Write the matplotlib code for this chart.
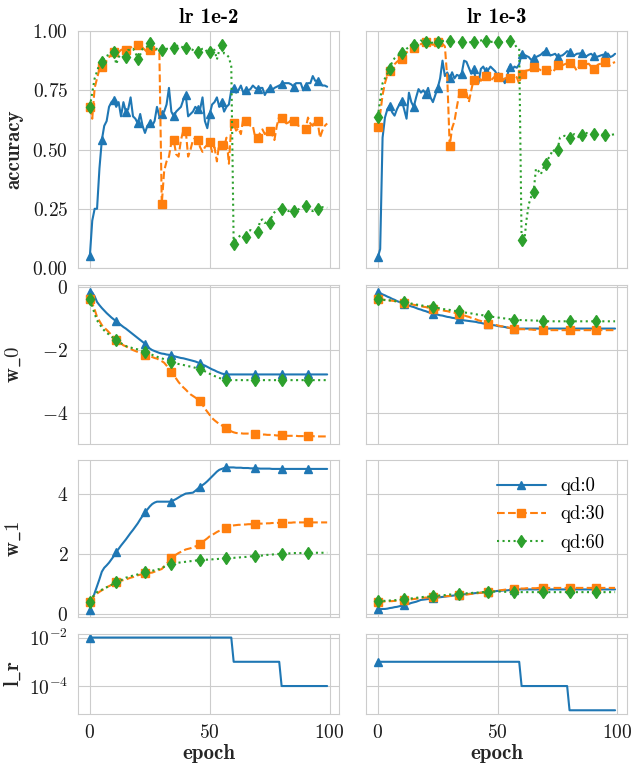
import matplotlib
matplotlib.use('Agg')
import matplotlib.pyplot as plt
import seaborn as sns

epochs = list(range(100))

# accuracy, lr 1e-2
acc_a0 = [0.05, 0.20, 0.25, 0.25, 0.42, 0.54, 0.60, 0.62, 0.68, 0.70,
          0.71, 0.68, 0.70, 0.64, 0.70, 0.66, 0.67, 0.72, 0.64, 0.63,
          0.61, 0.65, 0.60, 0.57, 0.60, 0.61, 0.60, 0.62, 0.68, 0.64,
          0.65, 0.66, 0.69, 0.76, 0.66, 0.64, 0.66, 0.67, 0.68, 0.71,
          0.73, 0.64, 0.65, 0.66, 0.68, 0.67, 0.67, 0.72, 0.62, 0.59,
          0.65, 0.69, 0.70, 0.72, 0.68, 0.70, 0.66, 0.68, 0.69, 0.75,
          0.76, 0.74, 0.75, 0.77, 0.74, 0.75, 0.75, 0.755, 0.77, 0.76,
          0.755, 0.76, 0.76, 0.73, 0.75, 0.76, 0.75, 0.76, 0.765, 0.77,
          0.775, 0.78, 0.78, 0.78, 0.775, 0.765, 0.78, 0.78, 0.78, 0.75,
          0.77, 0.78, 0.78, 0.81, 0.79, 0.79, 0.78, 0.77, 0.77, 0.765]
acc_a30 = [0.68, 0.63, 0.76, 0.80, 0.84, 0.85, 0.86, 0.875, 0.89, 0.90,
           0.91, 0.90, 0.91, 0.92, 0.925, 0.92, 0.925, 0.93, 0.94, 0.94,
           0.94, 0.92, 0.93, 0.92, 0.91, 0.92, 0.925, 0.92, 0.92, 0.91,
           0.27, 0.41, 0.45, 0.47, 0.53, 0.54, 0.48, 0.47, 0.54, 0.58,
           0.58, 0.47, 0.50, 0.54, 0.55, 0.54, 0.51, 0.49, 0.51, 0.52,
           0.53, 0.49, 0.51, 0.45, 0.53, 0.52, 0.51, 0.55, 0.44, 0.60,
           0.61, 0.58, 0.59, 0.565, 0.63, 0.62, 0.61, 0.60, 0.60, 0.55,
           0.55, 0.57, 0.585, 0.565, 0.575, 0.58, 0.565, 0.54, 0.60, 0.64,
           0.635, 0.62, 0.61, 0.615, 0.625, 0.62, 0.615, 0.60, 0.60, 0.60,
           0.585, 0.635, 0.61, 0.60, 0.63, 0.62, 0.55, 0.58, 0.60, 0.61]
acc_a60 = [0.68, 0.74, 0.80, 0.83, 0.86, 0.87, 0.89, 0.895, 0.90, 0.91,
           0.91, 0.86, 0.89, 0.90, 0.89, 0.89, 0.92, 0.92, 0.925, 0.91,
           0.88, 0.90, 0.925, 0.93, 0.935, 0.95, 0.92, 0.925, 0.925, 0.92,
           0.92, 0.92, 0.925, 0.925, 0.93, 0.93, 0.935, 0.94, 0.935, 0.93,
           0.93, 0.925, 0.925, 0.92, 0.915, 0.91, 0.92, 0.925, 0.925, 0.91,
           0.91, 0.925, 0.92, 0.88, 0.92, 0.94, 0.905, 0.90, 0.89, 0.85,
           0.10, 0.12, 0.13, 0.14, 0.13, 0.13, 0.155, 0.16, 0.155, 0.15,
           0.15, 0.20, 0.205, 0.19, 0.195, 0.19, 0.22, 0.235, 0.245, 0.25,
           0.25, 0.24, 0.243, 0.24, 0.245, 0.24, 0.245, 0.247, 0.255, 0.26,
           0.26, 0.247, 0.245, 0.24, 0.245, 0.25, 0.25, 0.257, 0.255, 0.254]

# accuracy, lr 1e-3
acc_b0 = [0.045, 0.08, 0.55, 0.635, 0.67, 0.685, 0.657, 0.643, 0.67, 0.69,
          0.706, 0.67, 0.63, 0.74, 0.70, 0.68, 0.72, 0.755, 0.74, 0.75,
          0.735, 0.76, 0.72, 0.70, 0.73, 0.76, 0.80, 0.875, 0.81, 0.825,
          0.80, 0.826, 0.80, 0.815, 0.81, 0.82, 0.875, 0.87, 0.845, 0.82,
          0.84, 0.79, 0.78, 0.84, 0.85, 0.83, 0.835, 0.85, 0.84, 0.83,
          0.81, 0.79, 0.80, 0.78, 0.81, 0.85, 0.835, 0.85, 0.845, 0.86,
          0.904, 0.90, 0.895, 0.89, 0.878, 0.885, 0.89, 0.895, 0.90, 0.91,
          0.915, 0.905, 0.897, 0.90, 0.904, 0.89, 0.895, 0.897, 0.905, 0.915,
          0.91, 0.90, 0.897, 0.904, 0.905, 0.907, 0.90, 0.893, 0.90, 0.904,
          0.895, 0.89, 0.893, 0.897, 0.90, 0.90, 0.905, 0.89, 0.895, 0.904]
acc_b30 = [0.593, 0.65, 0.73, 0.78, 0.815, 0.833, 0.845, 0.86, 0.87, 0.878,
           0.883, 0.90, 0.91, 0.917, 0.922, 0.927, 0.932, 0.935, 0.945, 0.95,
           0.953, 0.948, 0.945, 0.942, 0.945, 0.953, 0.95, 0.946, 0.935, 0.80,
           0.515, 0.59, 0.62, 0.68, 0.735, 0.74, 0.745, 0.74, 0.70, 0.75,
           0.795, 0.79, 0.81, 0.79, 0.80, 0.81, 0.82, 0.79, 0.80, 0.81,
           0.805, 0.80, 0.79, 0.80, 0.805, 0.80, 0.79, 0.81, 0.805, 0.777,
           0.82, 0.83, 0.833, 0.835, 0.84, 0.847, 0.845, 0.84, 0.835, 0.833,
           0.837, 0.84, 0.835, 0.826, 0.84, 0.855, 0.855, 0.855, 0.86, 0.864,
           0.864, 0.862, 0.85, 0.833, 0.85, 0.862, 0.855, 0.86, 0.862, 0.85,
           0.84, 0.85, 0.859, 0.862, 0.864, 0.869, 0.86, 0.855, 0.865, 0.869]
acc_b60 = [0.636, 0.71, 0.78, 0.80, 0.82, 0.84, 0.87, 0.885, 0.895, 0.90,
           0.907, 0.915, 0.925, 0.932, 0.94, 0.943, 0.946, 0.95, 0.96, 0.957,
           0.953, 0.952, 0.95, 0.951, 0.953, 0.955, 0.957, 0.958, 0.959, 0.96,
           0.958, 0.955, 0.953, 0.953, 0.953, 0.953, 0.953, 0.953, 0.953, 0.953,
           0.953, 0.955, 0.958, 0.96, 0.963, 0.96, 0.955, 0.953, 0.956, 0.96,
           0.953, 0.953, 0.953, 0.955, 0.958, 0.96, 0.95, 0.946, 0.93, 0.925,
           0.12, 0.10, 0.20, 0.27, 0.30, 0.32, 0.42, 0.41, 0.395, 0.42,
           0.44, 0.46, 0.475, 0.50, 0.49, 0.50, 0.55, 0.555, 0.558, 0.555,
           0.55, 0.56, 0.565, 0.56, 0.55, 0.56, 0.572, 0.57, 0.565, 0.565,
           0.565, 0.562, 0.558, 0.56, 0.565, 0.562, 0.558, 0.56, 0.563, 0.565]

# w_0
w0_a0 = [-0.16, -0.18, -0.30, -0.48, -0.58, -0.67, -0.75, -0.83, -0.90, -0.97,
         -1.03, -1.09, -1.15, -1.21, -1.27, -1.32, -1.38, -1.44, -1.50, -1.56,
         -1.62, -1.68, -1.74, -1.80, -1.88, -1.95, -2.00, -2.03, -2.06, -2.09,
         -2.11, -2.12, -2.14, -2.15, -2.17, -2.19, -2.21, -2.23, -2.25, -2.26,
         -2.28, -2.30, -2.32, -2.34, -2.36, -2.39, -2.42, -2.46, -2.49, -2.53,
         -2.57, -2.61, -2.64, -2.68, -2.71, -2.74, -2.76, -2.77, -2.77, -2.77,
         -2.77, -2.77, -2.77, -2.77, -2.77, -2.77, -2.77, -2.77, -2.77, -2.77,
         -2.77, -2.77, -2.77, -2.77, -2.77, -2.77, -2.77, -2.77, -2.77, -2.77,
         -2.77, -2.77, -2.77, -2.77, -2.77, -2.77, -2.77, -2.77, -2.77, -2.77,
         -2.77, -2.77, -2.77, -2.77, -2.77, -2.77, -2.77, -2.77, -2.77, -2.77]
w0_a30 = [-0.40, -0.52, -0.72, -0.95, -1.08, -1.21, -1.29, -1.36, -1.44, -1.52,
          -1.60, -1.67, -1.73, -1.79, -1.85, -1.88, -1.92, -1.96, -2.00, -2.03,
          -2.06, -2.09, -2.12, -2.14, -2.17, -2.19, -2.22, -2.25, -2.27, -2.31,
          -2.35, -2.40, -2.49, -2.59, -2.70, -2.80, -2.90, -3.01, -3.10, -3.18,
          -3.25, -3.33, -3.40, -3.45, -3.50, -3.56, -3.62, -3.73, -3.85, -3.95,
          -4.05, -4.15, -4.22, -4.28, -4.34, -4.38, -4.42, -4.45, -4.51, -4.57,
          -4.60, -4.62, -4.63, -4.63, -4.64, -4.64, -4.64, -4.65, -4.65, -4.65,
          -4.66, -4.66, -4.67, -4.67, -4.68, -4.68, -4.69, -4.69, -4.70, -4.70,
          -4.70, -4.70, -4.71, -4.71, -4.71, -4.71, -4.71, -4.72, -4.72, -4.72,
          -4.72, -4.72, -4.72, -4.72, -4.73, -4.73, -4.73, -4.73, -4.73, -4.73]
w0_a60 = [-0.40, -0.62, -0.85, -1.06, -1.17, -1.29, -1.38, -1.45, -1.51, -1.57,
          -1.63, -1.69, -1.74, -1.78, -1.83, -1.87, -1.90, -1.92, -1.94, -1.96,
          -1.98, -2.01, -2.03, -2.06, -2.09, -2.12, -2.15, -2.18, -2.21, -2.24,
          -2.26, -2.29, -2.32, -2.35, -2.38, -2.40, -2.42, -2.44, -2.45, -2.47,
          -2.49, -2.51, -2.52, -2.54, -2.56, -2.58, -2.60, -2.63, -2.67, -2.71,
          -2.75, -2.79, -2.82, -2.85, -2.88, -2.91, -2.93, -2.94, -2.95, -2.95,
          -2.95, -2.95, -2.95, -2.95, -2.95, -2.95, -2.95, -2.95, -2.95, -2.95,
          -2.95, -2.95, -2.95, -2.95, -2.95, -2.95, -2.95, -2.95, -2.95, -2.95,
          -2.95, -2.95, -2.95, -2.95, -2.95, -2.95, -2.95, -2.95, -2.95, -2.95,
          -2.95, -2.95, -2.95, -2.95, -2.95, -2.95, -2.95, -2.95, -2.95, -2.95]
w0_b0 = [-0.16, -0.20, -0.24, -0.27, -0.31, -0.34, -0.38, -0.41, -0.45, -0.48,
         -0.51, -0.54, -0.57, -0.59, -0.62, -0.64, -0.67, -0.70, -0.72, -0.75,
         -0.77, -0.80, -0.82, -0.85, -0.86, -0.88, -0.90, -0.91, -0.93, -0.95,
         -0.96, -0.98, -0.99, -1.01, -1.03, -1.04, -1.06, -1.07, -1.08, -1.09,
         -1.10, -1.11, -1.13, -1.14, -1.16, -1.17, -1.19, -1.20, -1.21, -1.22,
         -1.24, -1.25, -1.26, -1.27, -1.29, -1.30, -1.31, -1.32, -1.32, -1.32,
         -1.32, -1.32, -1.32, -1.32, -1.32, -1.32, -1.32, -1.32, -1.32, -1.32,
         -1.32, -1.32, -1.32, -1.32, -1.32, -1.32, -1.32, -1.32, -1.32, -1.32,
         -1.32, -1.32, -1.32, -1.32, -1.32, -1.32, -1.32, -1.32, -1.32, -1.32,
         -1.32, -1.32, -1.32, -1.32, -1.32, -1.32, -1.32, -1.32, -1.32, -1.32]
w0_b30 = [-0.37, -0.38, -0.40, -0.41, -0.42, -0.43, -0.44, -0.45, -0.47, -0.48,
          -0.49, -0.51, -0.52, -0.54, -0.55, -0.57, -0.58, -0.60, -0.61, -0.63,
          -0.64, -0.66, -0.67, -0.69, -0.70, -0.72, -0.73, -0.74, -0.76, -0.77,
          -0.79, -0.80, -0.82, -0.83, -0.85, -0.87, -0.90, -0.93, -0.95, -0.98,
          -1.00, -1.03, -1.06, -1.08, -1.11, -1.14, -1.16, -1.17, -1.19, -1.20,
          -1.22, -1.24, -1.25, -1.27, -1.28, -1.30, -1.32, -1.33, -1.33, -1.34,
          -1.34, -1.34, -1.35, -1.35, -1.35, -1.36, -1.36, -1.36, -1.37, -1.37,
          -1.37, -1.37, -1.37, -1.37, -1.37, -1.37, -1.37, -1.37, -1.37, -1.37,
          -1.37, -1.37, -1.37, -1.37, -1.37, -1.37, -1.37, -1.37, -1.37, -1.37,
          -1.37, -1.37, -1.37, -1.37, -1.37, -1.37, -1.37, -1.37, -1.37, -1.37]
w0_b60 = [-0.40, -0.41, -0.41, -0.42, -0.43, -0.43, -0.44, -0.45, -0.45, -0.46,
          -0.47, -0.48, -0.50, -0.51, -0.53, -0.54, -0.56, -0.57, -0.58, -0.60,
          -0.61, -0.62, -0.64, -0.65, -0.66, -0.67, -0.68, -0.70, -0.71, -0.72,
          -0.73, -0.75, -0.76, -0.77, -0.78, -0.80, -0.81, -0.82, -0.83, -0.84,
          -0.86, -0.87, -0.88, -0.89, -0.90, -0.92, -0.93, -0.94, -0.95, -0.96,
          -0.97, -0.98, -0.99, -1.00, -1.01, -1.02, -1.03, -1.04, -1.04, -1.05,
          -1.05, -1.05, -1.06, -1.06, -1.06, -1.07, -1.07, -1.07, -1.08, -1.08,
          -1.09, -1.09, -1.09, -1.09, -1.09, -1.09, -1.09, -1.09, -1.09, -1.09,
          -1.09, -1.09, -1.09, -1.09, -1.09, -1.09, -1.09, -1.09, -1.09, -1.09,
          -1.09, -1.09, -1.09, -1.09, -1.09, -1.09, -1.09, -1.09, -1.09, -1.09]

# w_1
w1_a0 = [0.12, 0.45, 0.69, 0.92, 1.15, 1.40, 1.53, 1.61, 1.70, 1.81,
         1.92, 2.05, 2.16, 2.27, 2.37, 2.47, 2.58, 2.69, 2.79, 2.90,
         3.01, 3.14, 3.26, 3.37, 3.47, 3.57, 3.65, 3.70, 3.73, 3.73,
         3.73, 3.73, 3.73, 3.73, 3.73, 3.78, 3.82, 3.87, 3.92, 3.96,
         4.00, 4.01, 4.02, 4.03, 4.09, 4.16, 4.22, 4.28, 4.34, 4.41,
         4.49, 4.57, 4.65, 4.73, 4.79, 4.82, 4.85, 4.87, 4.87, 4.87,
         4.87, 4.86, 4.86, 4.86, 4.85, 4.85, 4.85, 4.84, 4.84, 4.84,
         4.84, 4.83, 4.83, 4.83, 4.83, 4.83, 4.82, 4.82, 4.82, 4.82,
         4.82, 4.82, 4.82, 4.82, 4.82, 4.82, 4.82, 4.82, 4.82, 4.82,
         4.82, 4.82, 4.82, 4.82, 4.82, 4.82, 4.82, 4.82, 4.82, 4.82]
w1_a30 = [0.40, 0.52, 0.60, 0.67, 0.73, 0.78, 0.83, 0.88, 0.92, 0.96,
          1.01, 1.05, 1.07, 1.10, 1.12, 1.14, 1.17, 1.20, 1.22, 1.25,
          1.28, 1.30, 1.32, 1.34, 1.35, 1.36, 1.37, 1.40, 1.43, 1.46,
          1.49, 1.58, 1.66, 1.75, 1.84, 1.91, 1.97, 2.02, 2.06, 2.10,
          2.14, 2.16, 2.18, 2.21, 2.24, 2.28, 2.33, 2.39, 2.45, 2.51,
          2.58, 2.62, 2.67, 2.72, 2.76, 2.79, 2.82, 2.85, 2.88, 2.92,
          2.94, 2.95, 2.96, 2.96, 2.97, 2.97, 2.98, 2.98, 2.99, 2.99,
          2.99, 3.00, 3.00, 3.00, 3.01, 3.01, 3.02, 3.02, 3.02, 3.03,
          3.03, 3.03, 3.03, 3.03, 3.03, 3.04, 3.04, 3.04, 3.04, 3.04,
          3.04, 3.04, 3.04, 3.04, 3.04, 3.04, 3.04, 3.04, 3.04, 3.04]
w1_a60 = [0.40, 0.55, 0.64, 0.72, 0.76, 0.80, 0.84, 0.88, 0.92, 0.96,
          1.01, 1.05, 1.09, 1.12, 1.16, 1.20, 1.22, 1.25, 1.27, 1.29,
          1.31, 1.33, 1.36, 1.38, 1.40, 1.42, 1.43, 1.45, 1.47, 1.49,
          1.52, 1.56, 1.60, 1.64, 1.66, 1.68, 1.69, 1.70, 1.71, 1.72,
          1.73, 1.74, 1.75, 1.76, 1.77, 1.78, 1.78, 1.79, 1.80, 1.80,
          1.81, 1.81, 1.82, 1.82, 1.83, 1.84, 1.84, 1.85, 1.85, 1.86,
          1.86, 1.87, 1.87, 1.88, 1.89, 1.89, 1.90, 1.91, 1.91, 1.92,
          1.93, 1.93, 1.94, 1.95, 1.96, 1.96, 1.97, 1.98, 1.99, 1.99,
          2.00, 2.00, 2.01, 2.01, 2.01, 2.02, 2.02, 2.02, 2.02, 2.03,
          2.03, 2.03, 2.03, 2.03, 2.03, 2.03, 2.03, 2.03, 2.03, 2.03]
w1_b0 = [0.15, 0.15, 0.16, 0.16, 0.17, 0.19, 0.20, 0.22, 0.23, 0.25,
         0.27, 0.29, 0.31, 0.33, 0.36, 0.38, 0.40, 0.43, 0.46, 0.47,
         0.48, 0.49, 0.51, 0.52, 0.53, 0.54, 0.55, 0.56, 0.57, 0.58,
         0.59, 0.60, 0.61, 0.62, 0.63, 0.64, 0.65, 0.65, 0.66, 0.67,
         0.68, 0.69, 0.69, 0.70, 0.71, 0.72, 0.73, 0.73, 0.74, 0.75,
         0.76, 0.76, 0.77, 0.78, 0.78, 0.79, 0.80, 0.80, 0.81, 0.81,
         0.81, 0.81, 0.81, 0.81, 0.81, 0.81, 0.81, 0.81, 0.81, 0.81,
         0.81, 0.81, 0.81, 0.81, 0.81, 0.81, 0.81, 0.81, 0.81, 0.81,
         0.81, 0.81, 0.81, 0.81, 0.81, 0.81, 0.81, 0.81, 0.81, 0.81,
         0.81, 0.81, 0.81, 0.81, 0.81, 0.81, 0.81, 0.81, 0.81, 0.81]
w1_b30 = [0.39, 0.40, 0.40, 0.41, 0.41, 0.42, 0.42, 0.43, 0.43, 0.44,
          0.45, 0.46, 0.47, 0.47, 0.48, 0.49, 0.50, 0.51, 0.52, 0.53,
          0.54, 0.54, 0.55, 0.56, 0.56, 0.57, 0.57, 0.58, 0.58, 0.59,
          0.59, 0.59, 0.60, 0.60, 0.61, 0.62, 0.63, 0.64, 0.65, 0.66,
          0.67, 0.68, 0.69, 0.70, 0.71, 0.72, 0.73, 0.74, 0.75, 0.76,
          0.77, 0.78, 0.79, 0.80, 0.81, 0.82, 0.83, 0.83, 0.84, 0.84,
          0.84, 0.84, 0.85, 0.85, 0.85, 0.85, 0.85, 0.86, 0.86, 0.86,
          0.86, 0.86, 0.86, 0.86, 0.86, 0.86, 0.86, 0.86, 0.86, 0.86,
          0.86, 0.86, 0.86, 0.86, 0.86, 0.86, 0.86, 0.86, 0.86, 0.86,
          0.86, 0.86, 0.86, 0.86, 0.86, 0.86, 0.86, 0.86, 0.86, 0.86]
w1_b60 = [0.42, 0.42, 0.43, 0.43, 0.44, 0.44, 0.45, 0.45, 0.46, 0.46,
          0.47, 0.48, 0.49, 0.50, 0.51, 0.52, 0.53, 0.54, 0.55, 0.56,
          0.57, 0.57, 0.58, 0.59, 0.60, 0.60, 0.61, 0.62, 0.62, 0.63,
          0.64, 0.64, 0.65, 0.66, 0.66, 0.67, 0.68, 0.68, 0.69, 0.69,
          0.70, 0.70, 0.71, 0.72, 0.72, 0.73, 0.74, 0.74, 0.74, 0.74,
          0.74, 0.74, 0.73, 0.73, 0.73, 0.73, 0.72, 0.72, 0.72, 0.72,
          0.72, 0.72, 0.72, 0.72, 0.72, 0.72, 0.72, 0.72, 0.72, 0.72,
          0.72, 0.72, 0.72, 0.72, 0.72, 0.72, 0.72, 0.72, 0.72, 0.72,
          0.72, 0.72, 0.72, 0.72, 0.72, 0.72, 0.72, 0.72, 0.72, 0.72,
          0.72, 0.72, 0.72, 0.72, 0.72, 0.72, 0.72, 0.72, 0.72, 0.72]

# learning rate schedule (step changes)
lr_epochs = [0, 59, 60, 79, 80, 99]
lr_a = [1e-2, 1e-2, 1e-3, 1e-3, 1e-4, 1e-4]
lr_b = [1e-3, 1e-3, 1e-4, 1e-4, 1e-5, 1e-5]

labels = ['qd:0', 'qd:30', 'qd:60']
col_titles = ['lr 1e-2', 'lr 1e-3']

sns.set_style('whitegrid')
plt.rcParams['font.family'] = 'serif'
plt.rcParams['font.serif'] = ['cmr10']
plt.rcParams['mathtext.fontset'] = 'cm'
plt.rcParams['axes.formatter.use_mathtext'] = True
plt.rcParams['xtick.labelsize'] = 14
plt.rcParams['ytick.labelsize'] = 14
plt.rcParams['text.color'] = 'black'
plt.rcParams['xtick.color'] = '0.1'
plt.rcParams['ytick.color'] = '0.1'

bold = {'family': 'cmb10', 'size': 15}

colors = ['#1f77b4', '#ff7f0e', '#2ca02c']
styles = ['-', '--', ':']
markers = ['^', 's', 'd']
w_marks = [0, 11, 23, 34, 46, 57, 69, 80, 91]

data = {
    0: [[acc_a0, acc_a30, acc_a60], [w0_a0, w0_a30, w0_a60], [w1_a0, w1_a30, w1_a60]],
    1: [[acc_b0, acc_b30, acc_b60], [w0_b0, w0_b30, w0_b60], [w1_b0, w1_b30, w1_b60]],
}
lrs = [lr_a, lr_b]

fig, axes = plt.subplots(4, 2, figsize=(6.32, 7.66), dpi=100, sharex=True, sharey='row',
                         gridspec_kw=dict(height_ratios=[237, 159, 157, 80], hspace=0.105,
                                          wspace=0.103, left=0.1234, right=0.992,
                                          top=0.9595, bottom=0.068))

for j in range(2):
    for i in range(3):
        ax = axes[i, j]
        me = 5 if i == 0 else w_marks
        for k in range(3):
            ax.plot(epochs, data[j][i][k], color=colors[k], linestyle=styles[k],
                    marker=markers[k], markersize=6, markevery=me, linewidth=1.5,
                    label=labels[k])
    ax = axes[3, j]
    ax.plot(lr_epochs, lrs[j], color=colors[0], marker='^', markersize=6,
            markevery=[0], linewidth=1.5)
    ax.set_yscale('log')
    axes[0, j].set_title(col_titles[j], fontdict=bold)
    axes[3, j].set_xlabel('epoch', fontdict=bold, labelpad=2)

axes[0, 0].set_ylim(0, 1)
axes[0, 0].set_yticks([0, 0.25, 0.5, 0.75, 1.0])
axes[3, 0].set_xticks([0, 50, 100])

axes[0, 0].set_ylabel('accuracy', fontdict=bold)
axes[1, 0].set_ylabel(r'$\mathbf{w\_0}$', fontsize=15)
axes[2, 0].set_ylabel(r'$\mathbf{w\_1}$', fontsize=15)
axes[3, 0].set_ylabel(r'$\mathbf{l\_r}$', fontsize=15)
fig.align_ylabels(axes[:, 0])

axes[2, 1].legend(loc='upper right', frameon=False, fontsize=13.5,
                  bbox_to_anchor=(0.98, 1.0), handlelength=2.6, labelspacing=0.55)

fig.savefig('out.png', dpi=100)
